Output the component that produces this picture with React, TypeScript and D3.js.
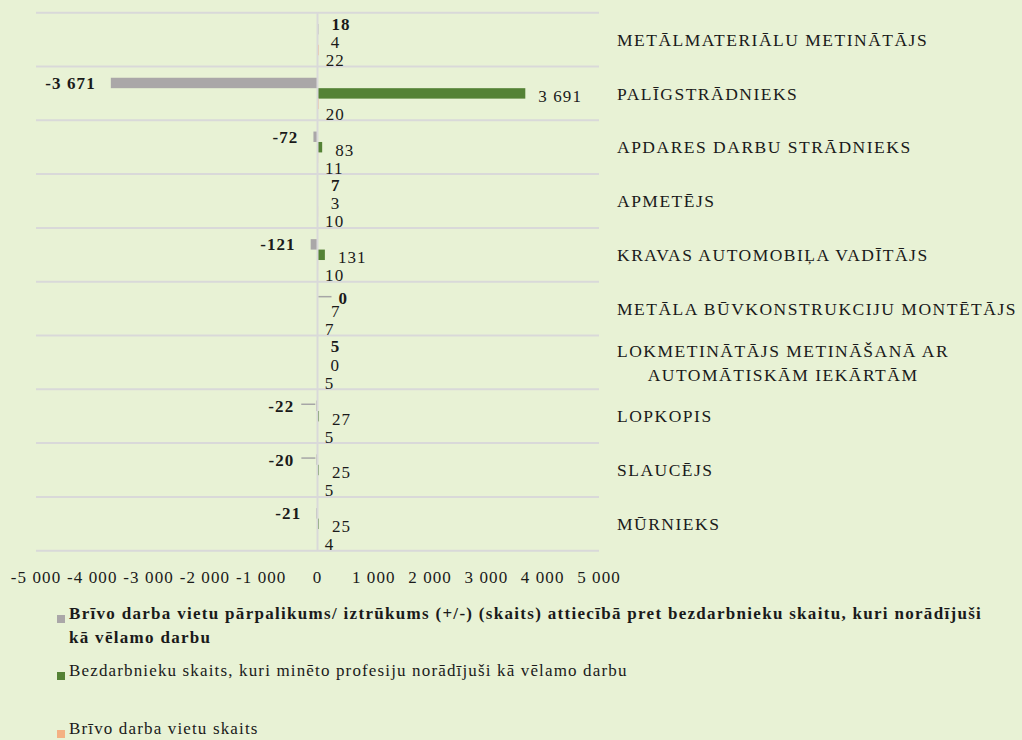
import { useEffect, useRef } from 'react';
import * as d3 from 'd3';

// profesijas (no augšas uz leju)
const categories = [
  'METĀLMATERIĀLU METINĀTĀJS',
  'PALĪGSTRĀDNIEKS',
  'APDARES DARBU STRĀDNIEKS',
  'APMETĒJS',
  'KRAVAS AUTOMOBIĻA VADĪTĀJS',
  'METĀLA BŪVKONSTRUKCIJU MONTĒTĀJS',
  'LOKMETINĀTĀJS METINĀŠANĀ AR\nAUTOMĀTISKĀM IEKĀRTĀM',
  'LOPKOPIS',
  'SLAUCĒJS',
  'MŪRNIEKS',
];

const surplus = [18, -3671, -72, 7, -121, 0, 5, -22, -20, -21];
const unemployed = [4, 3691, 83, 3, 131, 7, 0, 27, 25, 25];
const vacancies = [22, 20, 11, 10, 10, 7, 5, 5, 5, 4];

// labels that Excel pulled away from the bar with a leader line
const surplusLeader = [false, false, false, false, false, true, false, true, true, false];

const xTicks = [-5000, -4000, -3000, -2000, -1000, 0, 1000, 2000, 3000, 4000, 5000];

const seriesNames = [
  'Brīvo darba vietu pārpalikums/ iztrūkums (+/-) (skaits) attiecībā pret bezdarbnieku skaitu, kuri norādījuši kā vēlamo darbu',
  'Bezdarbnieku skaits, kuri minēto profesiju norādījuši kā vēlamo darbu',
  'Brīvo darba vietu skaits',
];

const colors = ['#aaa7a8', '#548235', '#f4b183'];
const FONT = '"Liberation Serif", "Times New Roman", serif';

const fmt = d3.formatLocale({
  decimal: ',',
  thousands: ' ',
  grouping: [3],
  currency: ['', ''],
  minus: '-',
}).format(',');

export default function App() {
  const svgRef = useRef<SVGSVGElement>(null);

  useEffect(() => {
    if (!svgRef.current) return;
    const svg = d3.select(svgRef.current);
    svg.selectAll('*').remove();

    svg.append('rect').attr('width', 1022).attr('height', 740).attr('fill', '#e8f2d5');

    const x = d3.scaleLinear().domain([-5000, 5000]).range([36, 599]);
    const y = d3.scaleBand().domain(categories).range([12.7, 550.7]);
    const inner = d3
      .scaleBand()
      .domain(['s', 'u', 'v'])
      .range([11.25, y.bandwidth() - 11.25]);

    // horizontal grid lines
    const gridYs = categories.map(c => y(c)!).concat([y.range()[1]]);
    svg
      .append('g')
      .selectAll('line')
      .data(gridYs)
      .join('line')
      .attr('x1', x(-5000))
      .attr('x2', x(5000))
      .attr('y1', d => d)
      .attr('y2', d => d)
      .attr('stroke', '#d9d9d9')
      .attr('stroke-width', 2);

    const series = [
      { key: 's', values: surplus },
      { key: 'u', values: unemployed },
      { key: 'v', values: vacancies },
    ];

    // bars
    series.forEach((s, si) => {
      svg
        .append('g')
        .selectAll('rect')
        .data(s.values)
        .join('rect')
        .attr('x', d => Math.min(x(0), x(d)))
        .attr('width', d => Math.abs(x(d) - x(0)))
        .attr('y', (d, i) => y(categories[i])! + inner(s.key)!)
        .attr('height', inner.bandwidth())
        .attr('fill', colors[si]);
    });

    // zero axis line
    svg
      .append('line')
      .attr('x1', x(0))
      .attr('x2', x(0))
      .attr('y1', y.range()[0])
      .attr('y2', y.range()[1])
      .attr('stroke', '#d9d9d9')
      .attr('stroke-width', 2);

    const labels = svg
      .append('g')
      .attr('font-family', FONT)
      .attr('font-size', 17)
      .attr('fill', '#1a1a1a')
      .style('letter-spacing', '1.1px');

    const mid = (key: string) => inner(key)! + inner.bandwidth() / 2;

    // surplus / deficit labels (bold)
    surplus.forEach((v, i) => {
      const top = y(categories[i])!;
      const cy = top + mid('s');
      const lead = surplusLeader[i];
      if (lead) {
        const x1 = v < 0 ? x(v) - 1 : x(0) + 1;
        const x2 = v < 0 ? x(v) - 15 : x(0) + 14;
        labels
          .append('line')
          .attr('x1', x1)
          .attr('x2', x2)
          .attr('y1', cy - 1.5)
          .attr('y2', cy - 1.5)
          .attr('stroke', '#a6a6a6')
          .attr('stroke-width', 1.5);
      }
      const gap = lead ? 22 : 15;
      labels
        .append('text')
        .attr('x', v < 0 ? x(v) - gap : x(Math.max(v, 0)) + (lead ? 21 : 13))
        .attr('y', cy - (v > 0 ? 5.5 : 0))
        .attr('dy', '0.35em')
        .attr('text-anchor', v < 0 ? 'end' : 'start')
        .attr('font-weight', 'bold')
        .text(fmt(v));
    });

    unemployed.forEach((v, i) => {
      labels
        .append('text')
        .attr('x', x(v) + 13)
        .attr('y', y(categories[i])! + mid('u') + 2.5)
        .attr('dy', '0.35em')
        .text(fmt(v));
    });

    vacancies.forEach((v, i) => {
      labels
        .append('text')
        .attr('x', x(v) + 7)
        .attr('y', y(categories[i])! + mid('v') + 10)
        .attr('dy', '0.35em')
        .text(fmt(v));
    });

    // x axis tick labels
    svg
      .append('g')
      .attr('font-family', FONT)
      .attr('font-size', 17)
      .attr('fill', '#1a1a1a')
      .style('letter-spacing', '1.1px')
      .selectAll('text')
      .data(xTicks)
      .join('text')
      .attr('x', d => x(d))
      .attr('y', 577)
      .attr('dy', '0.35em')
      .attr('text-anchor', 'middle')
      .text(d => fmt(d));

    // category labels on the right
    const cat = svg
      .append('g')
      .attr('font-family', FONT)
      .attr('font-size', 17.5)
      .attr('fill', '#1a1a1a')
      .style('letter-spacing', '1.5px');
    categories.forEach(c => {
      const lines = c.split('\n');
      const cy = y(c)! + y.bandwidth() / 2;
      const lh = 24;
      const first = cat
        .append('text')
        .attr('x', 617)
        .attr('y', cy - ((lines.length - 1) * lh) / 2)
        .attr('dy', '0.35em')
        .text(lines[0]);
      if (lines.length > 1) {
        const w = (first.node() as SVGTextElement).getComputedTextLength();
        lines.slice(1).forEach((ln, li) => {
          cat
            .append('text')
            .attr('x', 617 + w / 2)
            .attr('y', cy - ((lines.length - 1) * lh) / 2 + (li + 1) * lh)
            .attr('dy', '0.35em')
            .attr('text-anchor', 'middle')
            .text(ln);
        });
      }
    });

    // legend
    const legendY = [619, 676, 734];
    const legendX = 69;
    const legend = svg
      .append('g')
      .attr('font-family', FONT)
      .attr('font-size', 17)
      .attr('fill', '#1a1a1a');
    seriesNames.forEach((name, i) => {
      legend
        .append('rect')
        .attr('x', legendX - 12)
        .attr('y', legendY[i] - 4)
        .attr('width', 8)
        .attr('height', 8)
        .attr('fill', colors[i]);
      const t = legend
        .append('text')
        .attr('x', legendX)
        .attr('y', legendY[i])
        .attr('dy', '0.35em')
        .style('letter-spacing', i === 0 ? '1.3px' : '1.15px')
        .attr('font-weight', i === 0 ? 'bold' : 'normal');
      // wrap words to fit the legend width
      const words = name.split(' ');
      let line: string[] = [];
      let tspan = t.append('tspan').attr('x', legendX).attr('dy', 0);
      words.forEach(wd => {
        line.push(wd);
        tspan.text(line.join(' '));
        if ((tspan.node() as SVGTSpanElement).getComputedTextLength() > 925 && line.length > 1) {
          line.pop();
          tspan.text(line.join(' '));
          line = [wd];
          tspan = t.append('tspan').attr('x', legendX).attr('dy', 23.7).text(wd);
        }
      });
    });
  }, []);

  return (
    <>
      <style>{'body{margin:0}'}</style>
      <svg ref={svgRef} width={1022} height={740} style={{ display: 'block' }} />
    </>
  );
}
